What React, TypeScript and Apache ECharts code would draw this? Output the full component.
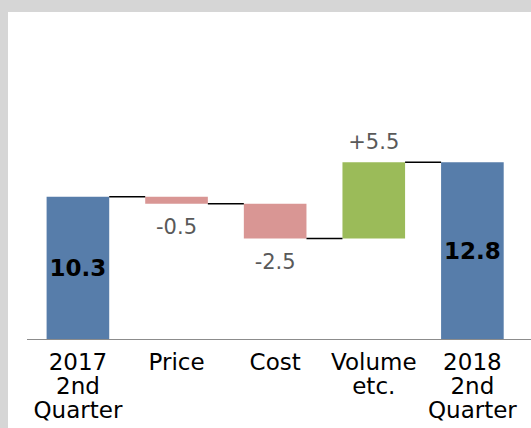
import React, { useEffect, useRef } from "react";
import * as echarts from "echarts";

const categories = ["2017\n2nd\nQuarter", "Price", "Cost", "Volume\netc.", "2018\n2nd\nQuarter"];
const changes = [10.3, -0.5, -2.5, 5.5, 12.8];
const barKinds = ["total", "delta", "delta", "delta", "total"];
const valueLabels = ["10.3", "-0.5", "-2.5", "+5.5", "12.8"];

const BLUE = "#577DAA";
const RED = "#D99694";
const GREEN = "#9BBB59";
const FONT = "DejaVu Sans";
const BAR_RATIO = 0.635;

export default function App() {
  const ref = useRef<HTMLDivElement>(null);

  useEffect(() => {
    if (!ref.current) return;
    const chart = echarts.init(ref.current, undefined, { renderer: "svg" });

    const bases: number[] = [];
    const heights: any[] = [];
    const levels: number[] = [];
    let running = 0;
    changes.forEach((v, i) => {
      const kind = barKinds[i];
      let color = BLUE;
      let label: any;
      if (kind === "total") {
        bases.push(0);
        running = v;
        label = {
          show: true,
          position: "inside",
          formatter: valueLabels[i],
          color: "#000",
          fontFamily: FONT,
          fontWeight: "bold",
          fontSize: 23,
        };
        heights.push({ value: v, itemStyle: { color }, label });
      } else if (v < 0) {
        bases.push(running + v);
        running += v;
        color = RED;
        label = {
          show: true,
          position: "bottom",
          distance: 13,
          formatter: valueLabels[i],
          color: "#595959",
          fontFamily: FONT,
          fontSize: 21,
        };
        heights.push({ value: -v, itemStyle: { color }, label });
      } else {
        bases.push(running);
        running += v;
        color = GREEN;
        label = {
          show: true,
          position: "top",
          distance: 10,
          formatter: valueLabels[i],
          color: "#595959",
          fontFamily: FONT,
          fontSize: 21,
        };
        heights.push({ value: v, itemStyle: { color }, label });
      }
      levels.push(running);
    });
    const connectors = levels.slice(0, -1).map((lv, i) => [i, lv]);

    chart.setOption({
      animation: false,
      backgroundColor: "#d6d6d6",
      graphic: [
        {
          type: "rect",
          z: -10,
          shape: { x: 8, y: 12, width: 523, height: 416 },
          style: { fill: "#ffffff" },
          silent: true,
        },
        {
          type: "line",
          z: 10,
          shape: { x1: 27, y1: 339.5, x2: 531, y2: 339.5 },
          style: { stroke: "#8c8c8c", lineWidth: 1 },
          silent: true,
        },
      ],
      grid: { left: 28.6, right: 9.3, top: 117.9, bottom: 88.5 },
      xAxis: {
        type: "category",
        data: categories,
        axisLine: { show: false },
        axisTick: { show: false },
        axisLabel: {
          interval: 0,
          color: "#000",
          fontFamily: FONT,
          fontSize: 23,
          lineHeight: 24,
          margin: 10,
        },
      },
      yAxis: { type: "value", min: 0, max: 16, show: false },
      series: [
        {
          type: "bar",
          stack: "w",
          barWidth: BAR_RATIO * 100 + "%",
          data: bases,
          itemStyle: { color: "transparent" },
          silent: true,
        },
        {
          type: "bar",
          stack: "w",
          barWidth: BAR_RATIO * 100 + "%",
          data: heights,
        },
        {
          type: "custom",
          data: connectors,
          encode: { x: 0, y: 1 },
          z: 5,
          renderItem: (params: any, api: any) => {
            const i = api.value(0);
            const lv = api.value(1);
            const p1 = api.coord([i, lv]);
            const p2 = api.coord([i + 1, lv]);
            const half = (api.size([1, 0])[0] * BAR_RATIO) / 2;
            return {
              type: "line",
              shape: { x1: p1[0] + half, y1: p1[1], x2: p2[0] - half, y2: p2[1] },
              style: { stroke: "#000", lineWidth: 1.5 },
            };
          },
        },
      ],
    });

    return () => chart.dispose();
  }, []);

  return (
    <div
      ref={ref}
      style={{ position: "fixed", left: 0, top: 0, width: 531, height: 428 }}
    />
  );
}
